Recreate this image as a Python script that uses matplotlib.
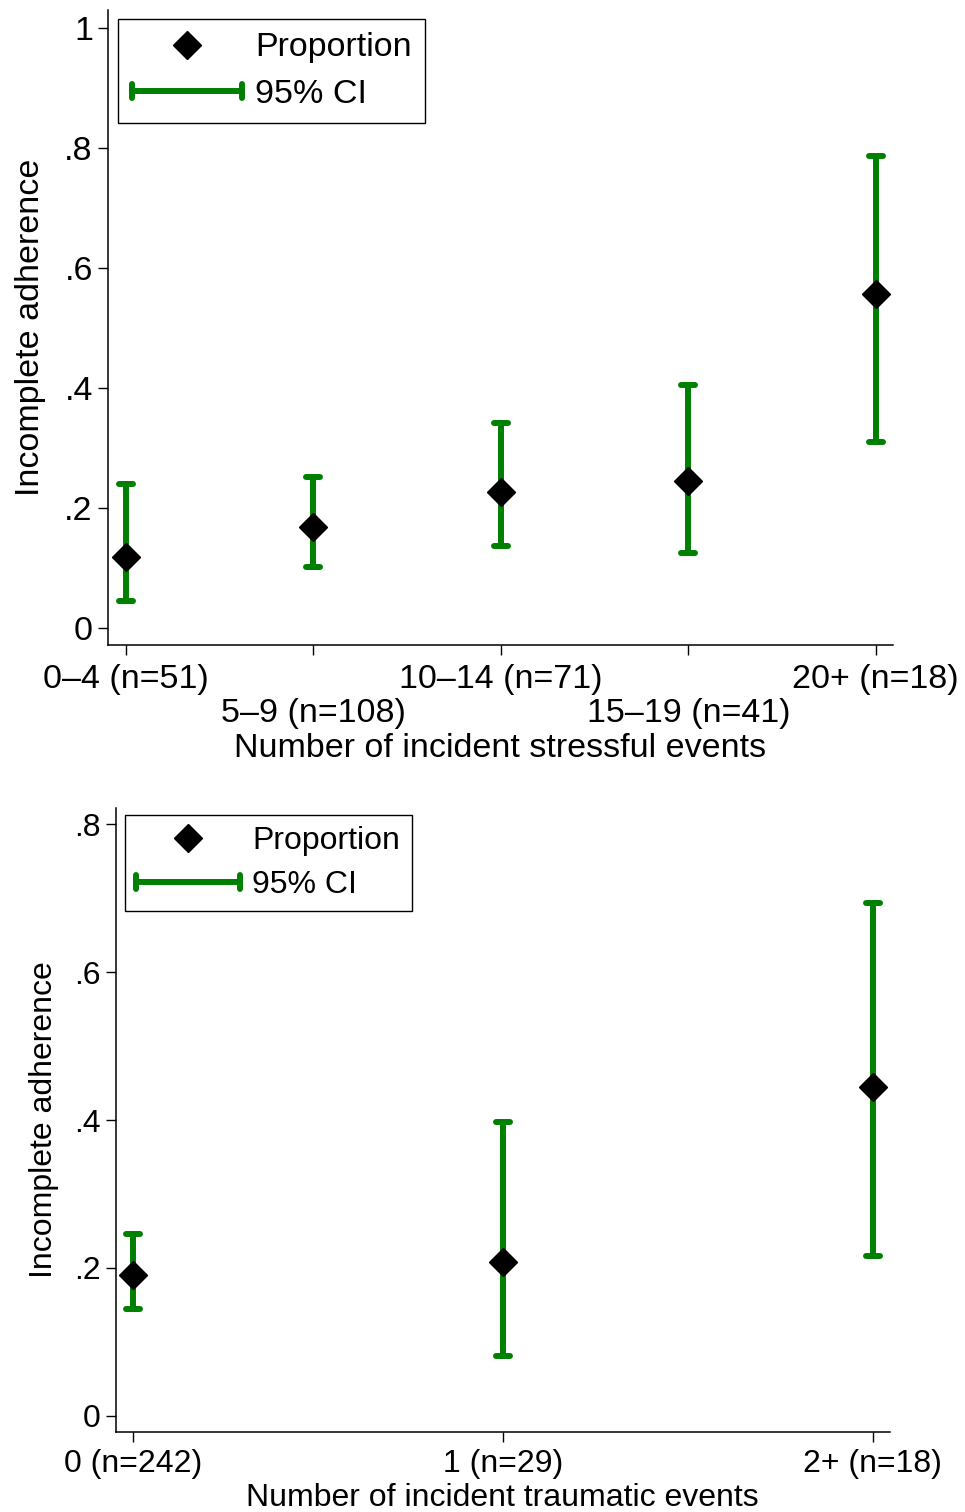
import matplotlib
matplotlib.use("Agg")
import matplotlib.pyplot as plt
from matplotlib.lines import Line2D
from matplotlib.markers import MarkerStyle
from matplotlib.legend_handler import HandlerLine2D

plt.rcParams['font.family'] = ['Liberation Sans', 'DejaVu Sans']

# ---- data ----
stress_labels = ["0–4 (n=51)", "5–9 (n=108)", "10–14 (n=71)", "15–19 (n=41)", "20+ (n=18)"]
stress_prop = [0.118, 0.168, 0.227, 0.245, 0.557]
stress_lo = [0.045, 0.102, 0.137, 0.125, 0.310]
stress_hi = [0.240, 0.252, 0.342, 0.405, 0.787]

trauma_labels = ["0 (n=242)", "1 (n=29)", "2+ (n=18)"]
trauma_prop = [0.190, 0.208, 0.445]
trauma_lo = [0.145, 0.081, 0.216]
trauma_hi = [0.246, 0.397, 0.693]

GREEN = '#008000'
LW = 4.3
CAP_H = MarkerStyle('_', capstyle='round')
CAP_V = MarkerStyle('|', capstyle='round')

fig = plt.figure(figsize=(9.65, 15.12), dpi=100)
ax1 = fig.add_axes([0.112, 0.5734, 0.813, 0.42])
ax2 = fig.add_axes([0.120, 0.0529, 0.802, 0.4127])


def draw(ax, labels, prop, lo, hi, yticks, ylim, xlim, xlabel, fs, stagger,
         legend_anchor, ylpad, xpad, xlpad, bpad, hlen, lspace):
    x = list(range(1, len(labels) + 1))
    ax.vlines(x, lo, hi, color=GREEN, lw=LW, zorder=2)
    ax.plot(x, lo, linestyle='none', marker=CAP_H, ms=10, mew=LW, color=GREEN, zorder=2)
    ax.plot(x, hi, linestyle='none', marker=CAP_H, ms=10, mew=LW, color=GREEN, zorder=2)
    ax.plot(x, prop, linestyle='none', marker='D', ms=14, color='black', zorder=3)
    ax.set_xlim(*xlim)
    ax.set_ylim(*ylim)
    ax.set_yticks(yticks)
    ax.set_yticklabels([("%g" % v).lstrip('0') if v not in (0, 1) else "%g" % v for v in yticks])
    ax.set_xticks(x)
    if stagger:
        ax.set_xticklabels([lab if i % 2 == 0 else "\n" + lab for i, lab in enumerate(labels)],
                           linespacing=1.1)
    else:
        ax.set_xticklabels(labels)
    for s in ['top', 'right']:
        ax.spines[s].set_visible(False)
    for s in ['left', 'bottom']:
        ax.spines[s].set_linewidth(1.1)
    ax.tick_params(axis='y', labelsize=fs, length=7, width=1.0, pad=4)
    ax.tick_params(axis='x', labelsize=fs, length=7, width=1.0, pad=xpad)
    ax.set_xlabel(xlabel, fontsize=fs, labelpad=xlpad)
    ax.set_ylabel("Incomplete adherence", fontsize=fs, labelpad=ylpad)

    h1 = Line2D([], [], linestyle='none', marker='D', ms=14, color='black')
    h2 = Line2D([], [], color=GREEN, lw=LW, marker=CAP_V, ms=10, mew=LW)
    leg = ax.legend([h1, h2], ["Proportion", "95% CI"], loc='upper left',
                    bbox_to_anchor=legend_anchor, borderaxespad=0, fontsize=fs,
                    fancybox=False, framealpha=1, edgecolor='black',
                    handlelength=hlen, handletextpad=0.38, labelspacing=lspace,
                    borderpad=bpad,
                    handler_map={h1: HandlerLine2D(numpoints=1),
                                 h2: HandlerLine2D(numpoints=2, marker_pad=0)})
    leg.get_frame().set_linewidth(1.0)


draw(ax1, stress_labels, stress_prop, stress_lo, stress_hi,
     [0, 0.2, 0.4, 0.6, 0.8, 1.0], (-0.028, 1.03), (0.904, 5.09),
     "Number of incident stressful events", 24.5, True, (0.0127, 0.986),
     13, 7, 3, 0.4, 3.25, 0.45)
draw(ax2, trauma_labels, trauma_prop, trauma_lo, trauma_hi,
     [0, 0.2, 0.4, 0.6, 0.8], (-0.022, 0.822), (0.954, 3.046),
     "Number of incident traumatic events", 23, False, (0.0116, 0.989),
     10.5, 5, 3, 0.36, 3.25, 0.42)

fig.savefig("out.png", dpi=100)
